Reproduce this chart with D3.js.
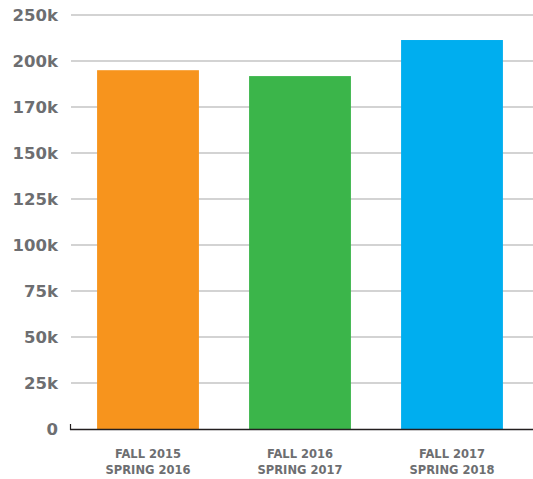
<!DOCTYPE html>
<html><head><meta charset="utf-8">
<script src="https://cdn.jsdelivr.net/npm/d3@7"></script>
<style>
html,body{margin:0;padding:0;background:#fff;}
svg{display:block;}
</style></head>
<body>
<svg id="chart" width="533" height="479"></svg>
<script>
const categories = [["FALL 2015","SPRING 2016"],["FALL 2016","SPRING 2017"],["FALL 2017","SPRING 2018"]];
const values = [195000, 191800, 211400];
const colors = ["#f7941d", "#3bb54a", "#00aeef"];
const tickValues = [0, 25000, 50000, 75000, 100000, 125000, 150000, 175000, 200000, 225000];
const tickLabels = ["0", "25k", "50k", "75k", "100k", "125k", "150k", "170k", "200k", "250k"];

const svg = d3.select("#chart");
const font = "'DejaVu Sans', sans-serif";
const grey = "#6d6e71";

const y = d3.scaleLinear().domain([0, 225000]).range([429, 15]);
const x = d3.scaleBand().domain(d3.range(categories.length)).range([72, 528]).paddingInner(0.33).paddingOuter(0.165);

// gridlines
svg.append("g").selectAll("line").data(tickValues.slice(1)).join("line")
  .attr("x1", 71).attr("x2", 533)
  .attr("y1", d => y(d)).attr("y2", d => y(d))
  .attr("stroke", "#c4c4c4").attr("stroke-width", 1.5);

// y labels
svg.append("g").selectAll("text").data(tickValues).join("text")
  .attr("x", 58).attr("y", d => y(d))
  .attr("dy", "0.36em")
  .attr("text-anchor", "end")
  .attr("font-family", font).attr("font-weight", "bold").attr("font-size", 16.5)
  .attr("fill", grey)
  .text((d, i) => tickLabels[i]);

// bars
svg.append("g").selectAll("rect").data(values).join("rect")
  .attr("x", (d, i) => x(i)).attr("width", x.bandwidth())
  .attr("y", d => y(d)).attr("height", d => y(0) - y(d))
  .attr("fill", (d, i) => colors[i]);

// baseline axis
svg.append("line").attr("x1", 70).attr("x2", 533).attr("y1", 429.5).attr("y2", 429.5)
  .attr("stroke", "#231f20").attr("stroke-width", 1.5);
svg.append("line").attr("x1", 70.5).attr("x2", 70.5).attr("y1", 424).attr("y2", 430)
  .attr("stroke", "#231f20").attr("stroke-width", 1.2);

// x labels
const xl = svg.append("g").selectAll("text").data(categories).join("text")
  .attr("x", (d, i) => x(i) + x.bandwidth() / 2)
  .attr("y", 458)
  .attr("text-anchor", "middle")
  .attr("font-family", font).attr("font-weight", "bold").attr("font-size", 11.5)
  .attr("fill", grey);
xl.selectAll("tspan").data(d => d).join("tspan")
  .attr("x", function() { return this.parentNode.getAttribute("x"); })
  .attr("dy", (d, i) => i === 0 ? 0 : 16)
  .text(d => d);
</script>
</body></html>
